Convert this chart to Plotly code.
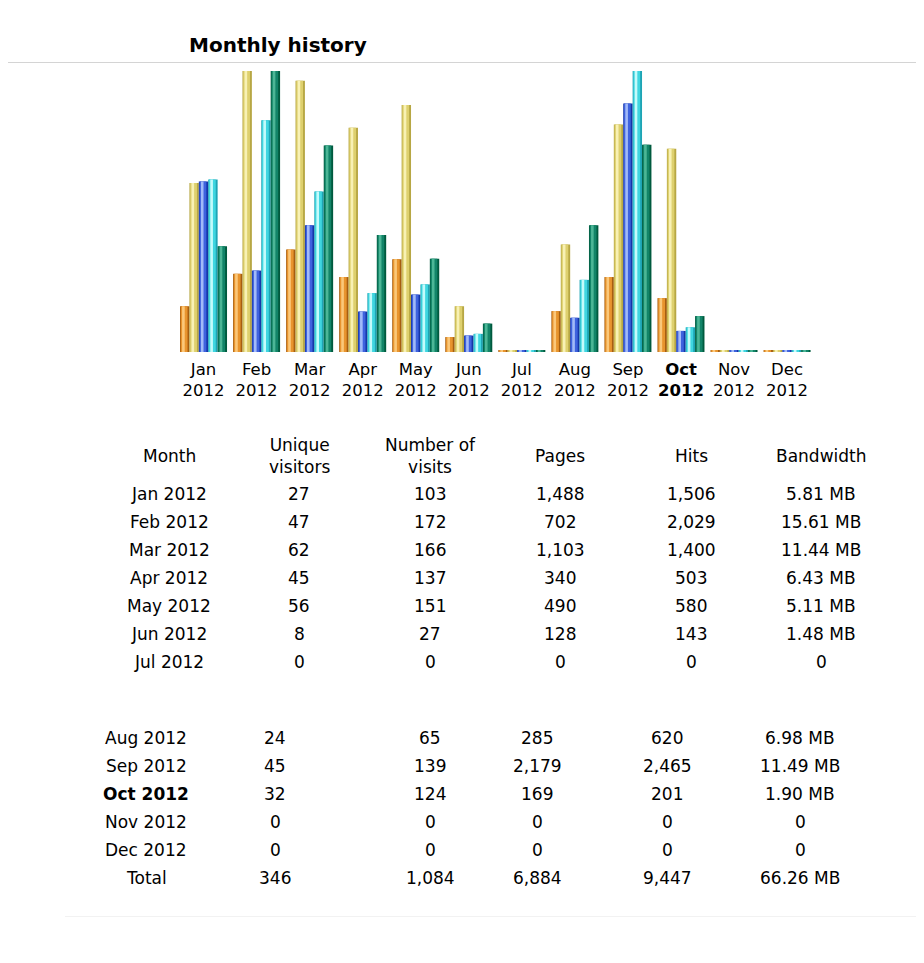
import plotly.graph_objects as go

# page body has an 8px margin: the figure is placed at (8, 8)
OFF = 8
PAGE_W, PAGE_H = 924, 963
W, H = PAGE_W - OFF, PAGE_H - OFF

months = ["Jan", "Feb", "Mar", "Apr", "May", "Jun", "Jul", "Aug", "Sep", "Oct", "Nov", "Dec"]
year = "2012"
current_month = "Oct"
visitors = [27, 47, 62, 45, 56, 8, 0, 24, 45, 32, 0, 0]
visits = [103, 172, 166, 137, 151, 27, 0, 65, 139, 124, 0, 0]
pages = [1488, 702, 1103, 340, 490, 128, 0, 285, 2179, 169, 0, 0]
hits = [1506, 2029, 1400, 503, 580, 143, 0, 620, 2465, 201, 0, 0]
bandwidth_mb = [5.81, 15.61, 11.44, 6.43, 5.11, 1.48, 0, 6.98, 11.49, 1.90, 0, 0]
totals = ["346", "1,084", "6,884", "9,447", "66.26 MB"]
headers = ["Month", "Unique<br>visitors", "Number of<br>visits", "Pages", "Hits", "Bandwidth"]

FONT = "DejaVu Sans, Verdana, sans-serif"


def px(x):
    return (x - OFF) / W


def py(y):
    return 1 - (y - OFF) / H


# scaling as in AWStats: visitors & visits share a scale, pages & hits share a scale
max_v = max(visits)
max_h = max(hits)
max_b = max(bandwidth_mb)
series = [
    ([v / max_v for v in visitors], ("#a65e10", "#e8942e", "#fbc87a")),
    ([v / max_v for v in visits], ("#b7a744", "#ded06e", "#f8f1b4")),
    ([v / max_h for v in pages], ("#1536a8", "#3e62de", "#a2baf8")),
    ([v / max_h for v in hits], ("#1ea4b4", "#3fd6e0", "#c4fbfb")),
    ([v / max_b for v in bandwidth_mb], ("#005a3e", "#128468", "#4cb696")),
]

x_idx = list(range(len(months)))
group_w = 0.886
bw = group_w / 5
base = -0.007

fig = go.Figure()
layers = [(0.0, 1.0, 0), (0.08, 0.72, 1), (0.22, 0.28, 2)]
for start, frac, ci in layers:
    for i, (vals, cols) in enumerate(series):
        off = -group_w / 2 + i * bw + start * bw
        fig.add_trace(go.Bar(
            x=x_idx, y=[v - base for v in vals], base=base,
            width=bw * frac, offset=off,
            marker=dict(color=cols[ci], line=dict(width=0)),
            showlegend=False, hoverinfo="skip",
        ))

ticktext = []
for m in months:
    if m == current_month:
        ticktext.append(f"<b>{m}</b><br><b>{year}</b>")
    else:
        ticktext.append(f"{m}<br>{year}")

x0, x1 = 177, 813.6
fig.update_layout(
    width=W, height=H,
    margin=dict(l=0, r=0, t=0, b=0),
    paper_bgcolor="white", plot_bgcolor="white",
    barmode="overlay",
    hovermode=False,
    xaxis=dict(domain=[px(x0), px(x1)], range=[-0.5, 11.5],
               tickvals=x_idx, ticktext=ticktext,
               showgrid=False, zeroline=False, showline=False, ticks="",
               tickfont=dict(family=FONT, size=16.5, color="black"),
               ticklabelstandoff=5, fixedrange=True),
    yaxis=dict(domain=[py(352), py(71)], range=[base, 1.0], visible=False,
               fixedrange=True),
    font=dict(family=FONT, color="black"),
)

ann = []
shapes = []
ann.append(dict(text="<b>Monthly history</b>", x=px(187), y=py(45), xref="paper", yref="paper",
                xanchor="left", yanchor="middle", showarrow=False,
                font=dict(family=FONT, size=20, color="black")))
shapes.append(dict(type="line", xref="paper", yref="paper", x0=0, x1=1, y0=py(62.5), y1=py(62.5),
                   line=dict(color="#d4d4d4", width=1)))
shapes.append(dict(type="line", xref="paper", yref="paper", x0=px(65), x1=1, y0=py(916.5), y1=py(916.5),
                   line=dict(color="#f2f2f2", width=1)))


def fmt_int(v):
    return f"{v:,}"


def fmt_bw(v):
    return "0" if v == 0 else f"{v:.2f} MB"


upper_cols = [169, 299, 430, 560, 691, 821]
lower_cols = [146, 275, 430, 537, 667, 800]
TS = 17

for c, h in zip(upper_cols, headers):
    ann.append(dict(text=h, x=px(c), y=py(456), xref="paper", yref="paper",
                    xanchor="center", yanchor="middle", showarrow=False,
                    font=dict(family=FONT, size=TS, color="black")))

row_y_upper = 494
row_y_lower = 738
row_step = 28
for k, m in enumerate(months):
    if k < 7:
        y = row_y_upper + k * row_step
        cols = upper_cols
    else:
        y = row_y_lower + (k - 7) * row_step
        cols = lower_cols
    label = f"{m} {year}"
    if m == current_month:
        label = f"<b>{label}</b>"
    cells = [label, fmt_int(visitors[k]), fmt_int(visits[k]), fmt_int(pages[k]),
             fmt_int(hits[k]), fmt_bw(bandwidth_mb[k])]
    for c, t in zip(cols, cells):
        ann.append(dict(text=t, x=px(c), y=py(y), xref="paper", yref="paper",
                        xanchor="center", yanchor="middle", showarrow=False,
                        font=dict(family=FONT, size=TS, color="black")))

y_tot = row_y_lower + 5 * row_step
for c, t in zip(lower_cols, ["Total"] + totals):
    ann.append(dict(text=t, x=px(c), y=py(y_tot), xref="paper", yref="paper",
                    xanchor="center", yanchor="middle", showarrow=False,
                    font=dict(family=FONT, size=TS, color="black")))

fig.update_layout(annotations=ann, shapes=shapes)
fig.write_html("out.html")
